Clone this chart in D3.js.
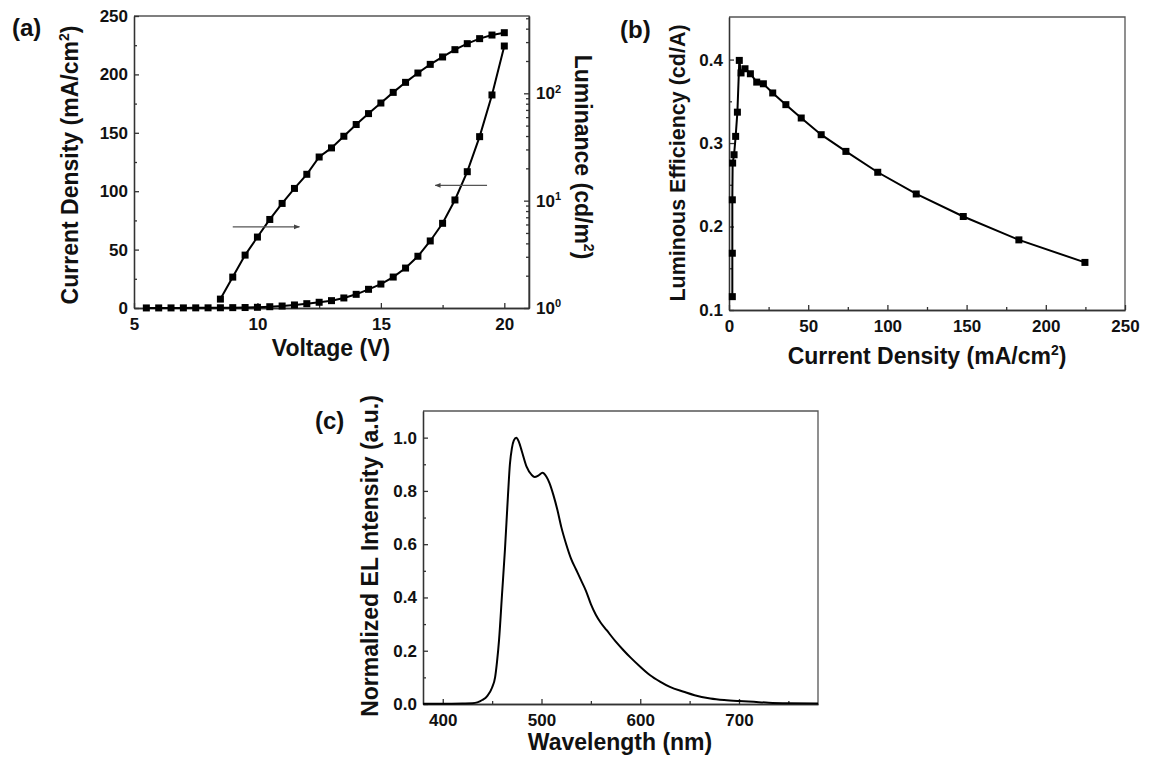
<!DOCTYPE html>
<html>
<head>
<meta charset="utf-8">
<script src="https://cdn.jsdelivr.net/npm/d3@7"></script>
<style>
  body { margin: 0; background: #fff; }
  svg text { font-family: Arial, "Liberation Sans", sans-serif; font-weight: bold; fill: #111; }
  .axis text { font-size: 17px; font-family: Arial, "Liberation Sans", sans-serif; font-weight: bold; fill: #111; }
  .axis path, .axis line { stroke: #333; stroke-width: 1.3; }
  .frame { fill: none; stroke: #555; stroke-width: 1.3; }
  .title { font-size: 23px; }
  .panel-label { font-size: 24px; }
  .curve { fill: none; stroke: #000; stroke-width: 2; }
  .marker { fill: #000; }
  .arrow { stroke: #555; stroke-width: 1.2; }
</style>
</head>
<body>
<div id="chart"></div>
<script>

// ---- (a) current density / luminance vs voltage
const voltageJ = [5.5, 6, 6.5, 7, 7.5, 8, 8.5, 9, 9.5, 10, 10.5, 11, 11.5, 12, 12.5,
  13, 13.5, 14, 14.5, 15, 15.5, 16, 16.5, 17, 17.5, 18, 18.5, 19, 19.5, 20];
const currentDensity = [0.05, 0.06, 0.08, 0.1, 0.12, 0.15, 0.2, 0.3, 0.4, 0.6, 1.1, 1.7, 2.6, 3.7, 4.9,
  6.3, 8.6, 11.7, 16.0, 20.5, 26.5, 34.2, 44.3, 57.4, 72.5, 92.5, 116.7, 146.7, 182.4, 224.3];
const voltageL = [8.5, 9, 9.5, 10, 10.5, 11, 11.5, 12, 12.5, 13, 13.5, 14, 14.5, 15, 15.5,
  16, 16.5, 17, 17.5, 18, 18.5, 19, 19.5, 20];
const luminance = [1.21, 1.94, 3.11, 4.58, 6.68, 9.42, 13.0, 17.6, 25.5, 31.0, 39.8, 51.2, 64.7, 81.2, 102,
  126.5, 154.5, 186, 218, 255, 290, 323, 349, 367];
// arrows (V, J) pointing to the axis each curve belongs to
const arrowToLeft = [[19.3, 105], [17.2, 105]];
const arrowToRight = [[9.0, 69.5], [11.7, 69.5]];

// ---- (b) luminous efficiency vs current density
const effCurrent = [2.1, 2.1, 2.1, 2.3, 3.2, 4.2, 5.3, 6.5, 7.6, 10.1, 13.5, 17.5, 21.7, 27.6, 35.9,
  45.6, 58.2, 73.8, 93.9, 118.2, 147.9, 183.0, 224.7];
const efficiency = [0.116, 0.168, 0.232, 0.276, 0.286, 0.308, 0.337, 0.399, 0.384, 0.389, 0.383, 0.373, 0.371, 0.360, 0.346,
  0.330, 0.310, 0.290, 0.265, 0.239, 0.212, 0.184, 0.157];

// ---- (c) EL spectrum
const wavelength = [380, 400, 420, 430, 435, 440, 445, 450, 453, 455, 457, 460, 463, 466, 468,
  470, 472, 474.5, 477, 480, 485, 490, 493, 497, 501, 505, 508, 512, 516, 520,
  525, 530, 535, 540, 545, 550, 555, 560, 566, 575, 583, 590, 600, 610, 620,
  630, 644, 655, 671, 685, 700, 715, 730, 750, 780];
const elIntensity = [0.001, 0.001, 0.002, 0.003, 0.006, 0.015, 0.03, 0.062, 0.10, 0.16, 0.24, 0.41, 0.58, 0.78, 0.90,
  0.96, 0.99, 1.0, 0.985, 0.95, 0.89, 0.86, 0.852, 0.858, 0.868, 0.853, 0.83, 0.785, 0.73, 0.665,
  0.60, 0.545, 0.505, 0.465, 0.425, 0.375, 0.335, 0.305, 0.277, 0.235, 0.202, 0.175, 0.14, 0.108, 0.084,
  0.064, 0.046, 0.033, 0.021, 0.015, 0.011, 0.008, 0.005, 0.003, 0.002];

// ---- tick values
const ticksA = { x: [5, 10, 15, 20], xMinor: [7.5, 12.5, 17.5], y: [0, 50, 100, 150, 200, 250], yMinor: [25, 75, 125, 175, 225],
  yLog: [1, 10, 100], yLogMinor: [2, 3, 4, 5, 6, 7, 8, 9, 20, 30, 40, 50, 60, 70, 80, 90, 200, 300, 400, 500] };
const ticksB = { x: [0, 50, 100, 150, 200, 250], xMinor: [25, 75, 125, 175, 225], y: [0.1, 0.2, 0.3, 0.4], yMinor: [0.15, 0.25, 0.35] };
const ticksC = { x: [400, 500, 600, 700], xMinor: [450, 550, 650, 750], y: [0, 0.2, 0.4, 0.6, 0.8, 1.0], yMinor: [0.1, 0.3, 0.5, 0.7, 0.9] };


const svg = d3.select("#chart").append("svg")
  .attr("width", 1150)
  .attr("height", 762);

svg.append("rect").attr("width", 1150).attr("height", 762).attr("fill", "#fff");

svg.append("defs").append("marker")
  .attr("id", "arrowhead")
  .attr("viewBox", "0 0 10 10")
  .attr("refX", 9).attr("refY", 5)
  .attr("markerWidth", 5).attr("markerHeight", 5)
  .attr("orient", "auto")
  .append("path")
  .attr("d", "M0,1 L10,5 L0,9 z")
  .attr("fill", "#444");


class Panel {

  constructor(parent, config) {
    this.parent = parent;
    this.config = config;
    this.initVis();
  }

  initVis() {
    let vis = this;
    let c = vis.config;

    vis.width = c.box.right - c.box.left;
    vis.height = c.box.bottom - c.box.top;

    vis.svg = vis.parent.append("g")
      .attr("transform", "translate(" + c.box.left + "," + c.box.top + ")");

    vis.x = d3.scaleLinear().domain(c.xDomain).range([0, vis.width]);
    vis.y = d3.scaleLinear().domain(c.yDomain).range([vis.height, 0]);

    // top + right border
    vis.svg.append("path")
      .attr("class", "frame")
      .attr("d", "M0,0H" + vis.width + "V" + vis.height);

    // x-axis: minor then major
    vis.svg.append("g")
      .attr("class", "axis")
      .attr("transform", "translate(0," + vis.height + ")")
      .call(d3.axisBottom(vis.x).tickValues(c.ticks.xMinor).tickSize(-3).tickSizeOuter(0).tickFormat(""));
    vis.svg.append("g")
      .attr("class", "axis")
      .attr("transform", "translate(0," + vis.height + ")")
      .call(d3.axisBottom(vis.x).tickValues(c.ticks.x).tickSize(-5).tickSizeOuter(0).tickPadding(10).tickFormat(c.xFormat));

    // y-axis
    vis.svg.append("g")
      .attr("class", "axis")
      .call(d3.axisLeft(vis.y).tickValues(c.ticks.yMinor).tickSize(-3).tickSizeOuter(0).tickFormat(""));
    vis.svg.append("g")
      .attr("class", "axis")
      .call(d3.axisLeft(vis.y).tickValues(c.ticks.y).tickSize(-5).tickSizeOuter(0).tickPadding(6).tickFormat(c.yFormat));

    vis.svg.selectAll(".axis text").attr("font-size", null).attr("font-family", null);
  }

  addSeries(xs, ys, yScale, opts) {
    let vis = this;
    let data = xs.map((d, i) => ({ x: d, y: ys[i] }));
    let line = d3.line()
      .x(d => vis.x(d.x))
      .y(d => yScale(d.y))
      .curve(opts.smooth ? d3.curveMonotoneX : d3.curveLinear);

    vis.svg.append("path")
      .datum(data)
      .attr("class", "curve")
      .attr("d", line);

    if (opts.markers) {
      vis.svg.selectAll(null)
        .data(data)
        .enter()
        .append("rect")
        .attr("class", "marker")
        .attr("x", d => vis.x(d.x) - 3.5)
        .attr("y", d => yScale(d.y) - 3.5)
        .attr("width", 7)
        .attr("height", 7);
    }
  }
}

// title with optional superscript pieces
function addTitle(parent, x, y, angle, pieces, size) {
  let t = parent.append("text")
    .attr("class", "title")
    .attr("transform", "translate(" + x + "," + y + ") rotate(" + angle + ")")
    .attr("text-anchor", "middle");
  if (size) t.style("font-size", size + "px");
  pieces.forEach(p => {
    t.append("tspan")
      .attr("dy", p.dy || 0)
      .style("font-size", p.sup ? "14px" : null)
      .text(p.text);
  });
  return t;
}

function label(text, x, y) {
  svg.append("text").attr("class", "panel-label").attr("x", x).attr("y", y).text(text);
}

const cm2 = [{ text: "2", sup: true, dy: -9 }, { text: ")", dy: 9 }];


// ---------------- panel (a)
const panelA = new Panel(svg, {
  box: { left: 134, top: 16, right: 529, bottom: 308 },
  xDomain: [5, 21], yDomain: [0, 250],
  ticks: ticksA, xFormat: d => d, yFormat: d => d
});

panelA.yLog = d3.scaleLog().domain([1, 525]).range([panelA.height, 0]);

panelA.svg.append("g")
  .attr("class", "axis")
  .attr("transform", "translate(" + panelA.width + ",0)")
  .call(d3.axisRight(panelA.yLog).tickValues(ticksA.yLogMinor).tickSize(-3).tickSizeOuter(0).tickFormat(""));
let logAxis = panelA.svg.append("g")
  .attr("class", "axis")
  .attr("transform", "translate(" + panelA.width + ",0)")
  .call(d3.axisRight(panelA.yLog).tickValues(ticksA.yLog).tickSize(-5).tickSizeOuter(0).tickPadding(7).tickFormat(""));
logAxis.selectAll(".tick text").each(function(d) {
  let t = d3.select(this).attr("font-size", null).attr("font-family", null);
  t.append("tspan").text("10");
  t.append("tspan").attr("dy", "-0.6em").style("font-size", "11px").text(Math.round(Math.log10(d)));
});

panelA.addSeries(voltageJ, currentDensity, panelA.y, { markers: true });
panelA.addSeries(voltageL, luminance, panelA.yLog, { markers: true });

[arrowToLeft, arrowToRight].forEach(a => {
  panelA.svg.append("line")
    .attr("class", "arrow")
    .attr("x1", panelA.x(a[0][0])).attr("y1", panelA.y(a[0][1]))
    .attr("x2", panelA.x(a[1][0])).attr("y2", panelA.y(a[1][1]))
    .attr("marker-end", "url(#arrowhead)");
});

addTitle(svg, 331, 356, 0, [{ text: "Voltage (V)" }]);
addTitle(svg, 78, 165, -90, [{ text: "Current Density (mA/cm" }].concat(cm2));
addTitle(svg, 575, 157, 90, [{ text: "Luminance (cd/m" }].concat(cm2));
label("(a)", 12, 36);


// ---------------- panel (b)
const panelB = new Panel(svg, {
  box: { left: 729, top: 17, right: 1125, bottom: 310 },
  xDomain: [0, 250], yDomain: [0.1, 0.451],
  ticks: ticksB, xFormat: d => d, yFormat: d3.format(".1f")
});

panelB.addSeries(effCurrent, efficiency, panelB.y, { markers: true });

addTitle(svg, 927, 364, 0, [{ text: "Current Density (mA/cm" }].concat(cm2));
addTitle(svg, 685, 163, -90, [{ text: "Luminous Efficiency (cd/A)" }], 21.5);
label("(b)", 620, 38);


// ---------------- panel (c)
const panelC = new Panel(svg, {
  box: { left: 423, top: 411, right: 818, bottom: 704 },
  xDomain: [380, 780], yDomain: [0, 1.1],
  ticks: ticksC, xFormat: d => d, yFormat: d3.format(".1f")
});

panelC.addSeries(wavelength, elIntensity, panelC.y, { smooth: true });

addTitle(svg, 620, 750, 0, [{ text: "Wavelength (nm)" }]);
addTitle(svg, 378, 556, -90, [{ text: "Normalized EL Intensity (a.u.)" }]);
label("(c)", 315, 429);

</script>
</body>
</html>
